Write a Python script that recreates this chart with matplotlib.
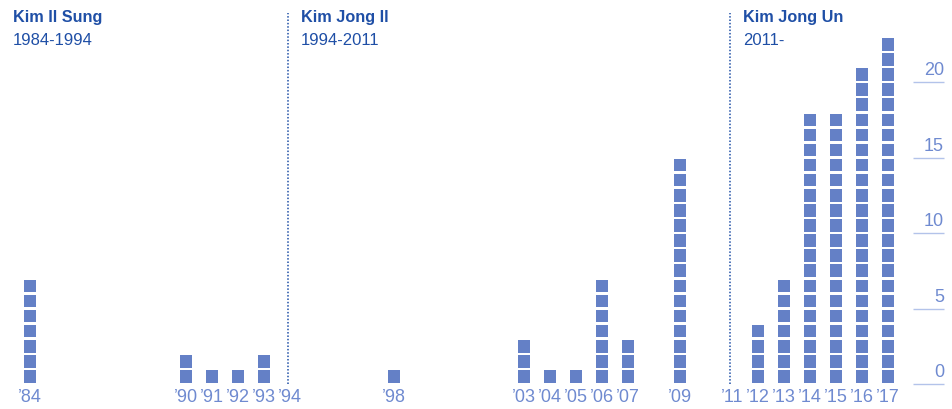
import matplotlib.pyplot as plt

# tests per year (one square = one test)
years = [1984, 1990, 1991, 1992, 1993, 1998, 2003, 2004, 2005, 2006, 2007,
         2009, 2012, 2013, 2014, 2015, 2016, 2017]
counts = [7, 2, 1, 1, 2, 1, 3, 1, 1, 7, 3, 15, 4, 7, 18, 18, 21, 23]

label_years = [1984, 1990, 1991, 1992, 1993, 1994, 1998, 2003, 2004, 2005,
               2006, 2007, 2009, 2011, 2012, 2013, 2014, 2015, 2016, 2017]

leaders = ['Kim Il Sung', 'Kim Jong Il', 'Kim Jong Un']
terms = ['1984-1994', '1994-2011', '2011-']
term_start = [1984, 1994, 2011]
term_lines = [1994, 2011]

yticks = [0, 5, 10, 15, 20]

sq_color = '#6480c6'
dark = '#1f4fa6'
light = '#6f8ad0'

plt.rcParams['font.family'] = ['Liberation Sans', 'DejaVu Sans']

fig = plt.figure(figsize=(9.52, 4.10), dpi=100)
ax = fig.add_axes([0, 0, 1, 1])
ax.set_xlim(1982.846, 2019.46)
ax.set_ylim(-1.656, 25.5)
ax.axis('off')

# stacked squares, one row at a time
for k in range(max(counts)):
    xs = [y for y, c in zip(years, counts) if c > k]
    ax.bar(xs, 0.83, width=0.48, bottom=k + 0.085, color=sq_color, linewidth=0)

# year labels
for y in label_years:
    ax.text(y, -0.8, '\u2019' + str(y)[2:], ha='center', va='center',
            fontsize=13, color=light)

# dotted lines where leadership changed
for y in term_lines:
    ax.plot([y - 0.07, y - 0.07], [0, 24.6], linestyle=(0, (1, 1.2)),
            linewidth=1.1, color=dark)

# leader names
for i in range(3):
    x0 = term_start[i] + 0.42 if i > 0 else 1983.35
    ax.text(x0, 24.37, leaders[i], ha='left', va='center', fontsize=11.7,
            fontweight='bold', color=dark)
    ax.text(x0, 22.85, terms[i], ha='left', va='center', fontsize=12,
            color=dark)

# right-hand value scale
ax.hlines(yticks, 2017.96, 2019.15, color='#b3c3ea', linewidth=1)
for t in yticks:
    ax.text(2019.15, t + 0.8, str(t), ha='right', va='center',
            fontsize=13, color=light)

plt.savefig('out.png', dpi=100)
